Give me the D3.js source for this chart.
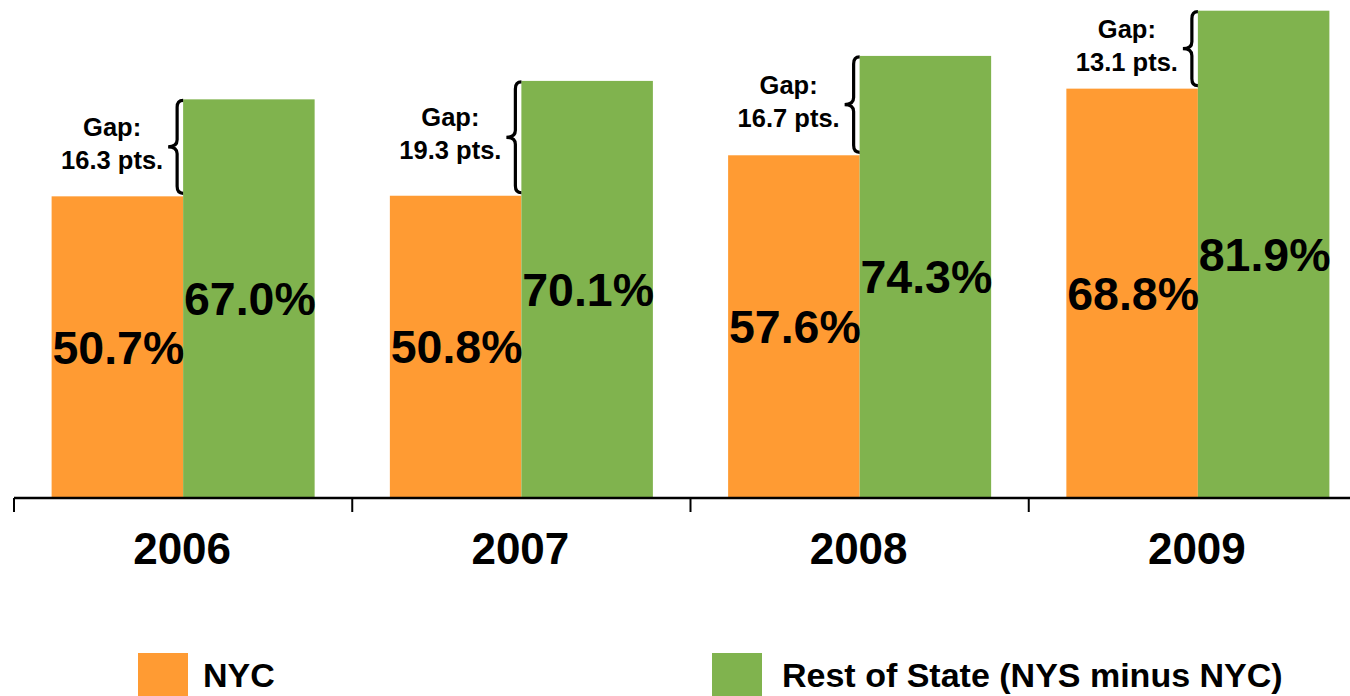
<!DOCTYPE html>
<html>
<head>
<meta charset="utf-8">
<script src="https://cdn.jsdelivr.net/npm/d3@7"></script>
<style>
  html, body { margin: 0; padding: 0; background: #fff; }
  svg { display: block; font-family: "Liberation Sans", Arial, sans-serif; font-weight: bold; }
</style>
</head>
<body>
<svg id="chart"></svg>
<script>
// chart data
const years = ['2006', '2007', '2008', '2009'];
const seriesKeys = ['nyc', 'ros'];
const seriesNames = ['NYC', 'Rest of State (NYS minus NYC)'];
const nycValues = [50.7, 50.8, 57.6, 68.8];
const rosValues = [67.0, 70.1, 74.3, 81.9];

const width = 1350, height = 696;
const colors = { nyc: '#FF9B33', ros: '#80B34E' };

const svg = d3.select('#chart')
    .attr('width', width)
    .attr('height', height);

// scales
const x = d3.scaleBand()
    .domain(years)
    .range([14, 1367])
    .paddingInner(0)
    .paddingOuter(0);

const xInner = d3.scaleBand()
    .domain(seriesKeys)
    .range([0, x.bandwidth()])
    .paddingInner(0)
    .paddingOuter(0.286);

const y = d3.scaleLinear()
    .domain([0, 100])
    .range([498, -97]);

const rows = years.map((yr, i) => ({ year: yr, nyc: nycValues[i], ros: rosValues[i] }));

// bars
const groups = svg.append('g').selectAll('g')
    .data(rows)
    .join('g')
    .attr('transform', d => `translate(${x(d.year)},0)`);

groups.selectAll('rect')
    .data(d => seriesKeys.map(k => ({ key: k, value: d[k] })))
    .join('rect')
    .attr('x', d => xInner(d.key))
    .attr('y', d => y(d.value))
    .attr('width', xInner.bandwidth())
    .attr('height', d => y(0) - y(d.value))
    .attr('fill', d => colors[d.key]);

// value labels, centred in the bar
groups.selectAll('text.val')
    .data(d => seriesKeys.map(k => ({ key: k, value: d[k] })))
    .join('text')
    .attr('class', 'val')
    .attr('x', d => xInner(d.key) + xInner.bandwidth() / 2 + 1)
    .attr('y', d => (y(d.value) + y(0)) / 2 + 16.5)
    .attr('text-anchor', 'middle')
    .style('font-size', '46.5px')
    .text(d => d3.format('.1f')(d.value) + '%');

// gap annotations: brace + text
const fmt = d3.format('.1f');
groups.each(function(d) {
    const g = d3.select(this);
    const gx = xInner('ros');
    const yTop = y(d.ros) + 1;
    const yBot = y(d.nyc) - 3;
    const mid = (yTop + yBot) / 2;
    const xs = gx - 6, xp = gx - 15, xe = gx, r = 7;

    g.append('path')
        .attr('d', `M${xe},${yTop} Q${xs},${yTop} ${xs},${yTop + r}
                    L${xs},${mid - r} Q${xs},${mid} ${xp},${mid}
                    Q${xs},${mid} ${xs},${mid + r}
                    L${xs},${yBot - r} Q${xs},${yBot} ${xe},${yBot}`)
        .attr('fill', 'none')
        .attr('stroke', '#000')
        .attr('stroke-width', 3.2);

    const t = g.append('text')
        .attr('text-anchor', 'middle')
        .style('font-size', '25.5px');
    t.append('tspan')
        .attr('x', gx - 71)
        .attr('y', mid - 11)
        .text('Gap:');
    t.append('tspan')
        .attr('x', gx - 71)
        .attr('y', mid + 22)
        .text(fmt(d.ros - d.nyc) + ' pts.');
});

// x axis
const axis = svg.append('g');
axis.append('line')
    .attr('x1', x.range()[0]).attr('x2', width)
    .attr('y1', y(0)).attr('y2', y(0))
    .attr('stroke', '#000')
    .attr('stroke-width', 2.5);

axis.selectAll('line.tick')
    .data(years)
    .join('line')
    .attr('class', 'tick')
    .attr('x1', d => x(d)).attr('x2', d => x(d))
    .attr('y1', y(0)).attr('y2', y(0) + 14)
    .attr('stroke', '#000')
    .attr('stroke-width', 2);

axis.selectAll('text')
    .data(years)
    .join('text')
    .attr('x', d => x(d) + x.bandwidth() / 2 - 1)
    .attr('y', 564)
    .attr('text-anchor', 'middle')
    .style('font-size', '44px')
    .text(d => d);

// legend
const legendX = [138, 712];
const legend = svg.append('g').selectAll('g')
    .data(seriesKeys)
    .join('g')
    .attr('transform', (d, i) => `translate(${legendX[i]},653)`);

legend.append('rect')
    .attr('width', 50)
    .attr('height', 50)
    .attr('fill', d => colors[d]);

legend.append('text')
    .attr('x', (d, i) => i === 0 ? 65 : 70)
    .attr('y', 34)
    .style('font-size', '34px')
    .text((d, i) => seriesNames[i]);
</script>
</body>
</html>
